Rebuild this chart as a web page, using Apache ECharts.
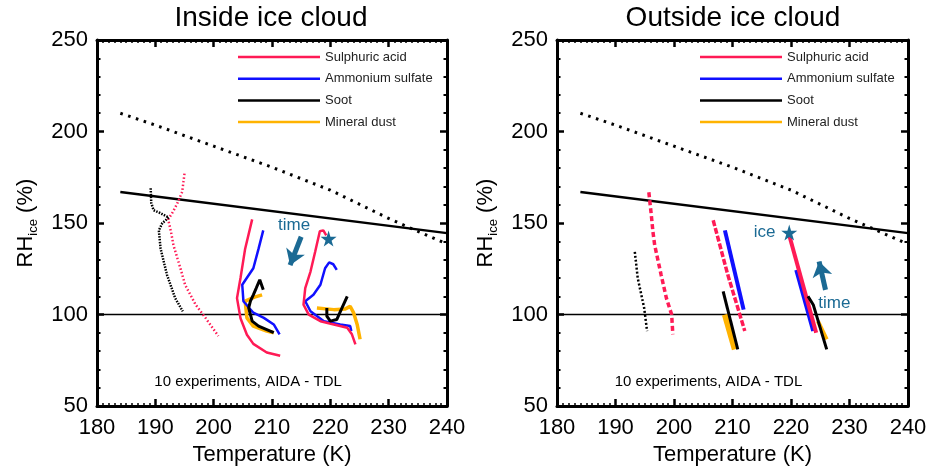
<!DOCTYPE html>
<html>
<head>
<meta charset="utf-8">
<script src="https://cdn.jsdelivr.net/npm/echarts@6/dist/echarts.min.js"></script>
<style>
  html, body { margin: 0; padding: 0; background: #fff; }
  #chart { width: 930px; height: 471px; }
</style>
</head>
<body>
<div id="chart"></div>
<script>
// reference lines (same in both panels)
const refT = [184, 190, 200, 210, 220, 230, 240]
const homRH = [210, 203.5, 192, 180.5, 168, 152.5, 138.5]   // dotted
const satT = [184, 240]
const satRH = [167, 144.5]                                // solid
const iceT = [180, 240]
const iceRH = [100, 100]

// inside ice cloud, [T, RH]
const inSootA = [[189.2,169],[189.3,161],[189.7,157],[190.8,155.5],[192.3,153],[191.2,150],[190.6,146],[190.9,136],[192,121.7],[193.4,109],[194.7,101.8]]
const inAcidA = [[195,177],[194.6,167],[193.8,161],[193,156],[192.2,152],[192.7,145],[193.1,138],[194.3,125.3],[195.1,116.3],[196.9,105.4],[198.6,98.2],[200.8,88.3]]
const inAcidB = [[206.6,152],[205.4,136],[204.6,120],[204,109],[204.6,98],[205.7,89],[206.8,84],[209.1,79.3],[211.4,77.5]]
const inBlueB = [[208.5,146],[207.7,136],[206.8,125.3],[204.9,116.3],[205.1,107.3],[206.8,101],[208.6,98.2],[210.3,94.6],[211.3,89.2]]
const inDustB = [[208.3,110.8],[207,109.5],[205.4,107.3],[205.7,98.2],[206.8,93.7],[209.1,91],[210.3,90.1]]
const inSootB = [[208.5,113.5],[207.9,119],[207.3,114.5],[206.8,110.8],[206.3,107.3],[206,103.6],[206.6,96.4],[207.7,93.7],[209.7,91],[210.3,90.1]]
const inAcidC = [[219.3,143.3],[218.8,146],[218.2,145.5],[217.4,134.3],[216.6,123.5],[215.7,114.5],[215.4,105.4],[216.3,100],[218.3,96.4],[220.6,94.6],[222.9,92.8],[223.7,89.2],[224.3,83.7]]
const inBlueC = [[221.1,124.4],[220.5,127.5],[219.8,128.5],[219.1,125.3],[218.3,116.3],[217.1,110.8],[215.7,107.3],[216.6,101.8],[218.9,96.4],[221.7,94.6],[223.4,93.7],[223.6,91]]
const inDustC = [[217.7,103.6],[220.6,102.7],[222.5,103],[223.4,104.5],[224,100.9],[224.6,94.6],[225.1,86.5]]
const inSootC = [[219.4,103.6],[219.4,99.1],[220,96.4],[221.1,97.3],[222,103.6],[222.9,110]]
const inStar = [219.7, 141.5]

// outside ice cloud
const outAcidA = [[195.7,166.8],[196.1,155],[196.4,145.2],[196.7,137.9],[197.8,121.7],[198.7,109],[199.6,100],[199.8,89.2]]
const outSootA = [[193.3,134.3],[193.8,119.9],[194.9,103.6],[195.4,91]]
const outAcidB = [[206.7,151.5],[209.2,121.7],[212.1,91]]
const outBlueB = [[208.7,146],[211.9,102.7]]
const outSootB = [[208.4,112.7],[210.9,81]]
const outDustB = [[208.7,100],[210.4,81]]
const outAcidC = [[219.7,143.3],[224.3,90.1]]
const outBlueC = [[220.9,124.4],[223.8,91]]
const outSootC = [[222.9,110],[223.8,105.4],[226.1,81]]
const outDustC = [[224.6,96.4],[226.1,86.5]]
const outStar = [219.7, 144.8]

const names = ['Sulphuric acid', 'Ammonium sulfate', 'Soot', 'Mineral dust']
const colors = { 'Sulphuric acid': '#ff1a55', 'Ammonium sulfate': '#1010ff', 'Soot': '#000000', 'Mineral dust': '#ffb300' }
const teal = '#1b6a94'
const FONT = 'Liberation Sans'
const starPath = 'path://M50,0 L61,35 L98,35 L68,57 L79,91 L50,70 L21,91 L32,57 L2,35 L39,35 Z'

const chart = echarts.init(document.getElementById('chart'))

function xAx(grid, top) {
  return {
    type: 'value', gridIndex: grid, min: 180, max: 240, interval: 10,
    position: top ? 'top' : 'bottom',
    axisLine: { show: true, onZero: false, lineStyle: { color: '#000', width: 3 } },
    axisTick: { show: true, inside: true, length: 7, lineStyle: { color: '#000', width: 2.5 } },
    minorTick: { show: true, splitNumber: 10, length: 3, lineStyle: { color: '#000', width: 1.5 } },
    axisLabel: { show: !top, color: '#000', fontFamily: FONT, fontSize: 22, margin: 11 },
    splitLine: { show: false },
    name: top ? '' : 'Temperature (K)', nameLocation: 'middle', nameGap: 31,
    nameTextStyle: { color: '#000', fontFamily: FONT, fontSize: 22 }
  }
}
function yAx(grid, right) {
  return {
    type: 'value', gridIndex: grid, min: 50, max: 250, interval: 50,
    position: right ? 'right' : 'left',
    axisLine: { show: true, onZero: false, lineStyle: { color: '#000', width: 3 } },
    axisTick: { show: true, inside: true, length: 7, lineStyle: { color: '#000', width: 2.5 } },
    minorTick: { show: true, splitNumber: 5, length: 3.5, lineStyle: { color: '#000', width: 2 } },
    axisLabel: { show: !right, color: '#000', fontFamily: FONT, fontSize: 22, margin: 9 },
    splitLine: { show: false },
    name: right ? '' : '{a|RH}{b|ice}{a| (%)}', nameLocation: 'middle', nameGap: 57, nameRotate: 90,
    nameTextStyle: {
      color: '#000', fontFamily: FONT, fontSize: 22,
      rich: {
        a: { fontFamily: FONT, fontSize: 22, color: '#000', lineHeight: 28 },
        b: { fontFamily: FONT, fontSize: 13, color: '#000', lineHeight: 28, padding: [14, 0, 0, 0] }
      }
    }
  }
}

function curve(p, name, data, width, dash) {
  return {
    type: 'line', name: name, xAxisIndex: p, yAxisIndex: p, data: data,
    symbol: 'none', silent: true, z: 3,
    lineStyle: { color: colors[name], width: width, type: dash || 'solid' },
    itemStyle: { color: colors[name] }
  }
}
function refLine(p, data, width, dash) {
  return {
    type: 'line', xAxisIndex: p, yAxisIndex: p, data: data, symbol: 'none', silent: true, z: 2,
    lineStyle: { color: '#000', width: width, type: dash || 'solid' }
  }
}
function note(p, pts, color, size) {
  return {
    type: 'scatter', xAxisIndex: p, yAxisIndex: p, symbolSize: 1, silent: true, z: 5,
    itemStyle: { color: 'rgba(0,0,0,0)', opacity: 1 },
    data: pts.map(d => ({ value: [d[0], d[1]], label: { formatter: d[2] } })),
    label: { show: true, position: 'inside', color: color, fontFamily: FONT, fontSize: size }
  }
}
function arrow(p, from, to) {
  return {
    type: 'line', xAxisIndex: p, yAxisIndex: p, data: [], silent: true,
    markLine: {
      silent: true, symbol: ['none', 'arrow'], symbolSize: 15, animation: false,
      label: { show: false },
      itemStyle: { color: teal },
      lineStyle: { color: teal, width: 5, type: 'solid', opacity: 1 },
      emphasis: { disabled: true },
      data: [[{ coord: from }, { coord: to }]]
    }
  }
}
function star(p, pt) {
  return {
    type: 'scatter', xAxisIndex: p, yAxisIndex: p, data: [pt], symbol: starPath, symbolSize: 16,
    itemStyle: { color: teal, opacity: 1 }, silent: true, z: 6
  }
}

const hom = refT.map((t, i) => [t, homRH[i]])
const sat = satT.map((t, i) => [t, satRH[i]])
const ice = iceT.map((t, i) => [t, iceRH[i]])

const series = []
for (const p of [0, 1]) {
  series.push(refLine(p, hom, 3, [2.6, 5.6]))
  series.push(refLine(p, sat, 2.5))
  series.push(refLine(p, ice, 1.5))
}
// inside
series.push(curve(0, 'Sulphuric acid', inAcidA, 2.5, [1.5, 2.2]))
series.push(curve(0, 'Soot', inSootA, 2.5, [1.5, 1.3]))
series.push(curve(0, 'Mineral dust', inDustB, 3.5))
series.push(curve(0, 'Ammonium sulfate', inBlueB, 2.5))
series.push(curve(0, 'Sulphuric acid', inAcidB, 2.5))
series.push(curve(0, 'Soot', inSootB, 3))
series.push(curve(0, 'Mineral dust', inDustC, 3.5))
series.push(curve(0, 'Ammonium sulfate', inBlueC, 2.5))
series.push(curve(0, 'Sulphuric acid', inAcidC, 2.5))
series.push(curve(0, 'Soot', inSootC, 3))
// outside
series.push(curve(1, 'Sulphuric acid', outAcidA, 3.5, [5, 3]))
series.push(curve(1, 'Soot', outSootA, 2.5, [2, 2]))
series.push(curve(1, 'Mineral dust', outDustB, 6))
series.push(curve(1, 'Ammonium sulfate', outBlueB, 4))
series.push(curve(1, 'Sulphuric acid', outAcidB, 3.5, [6, 2]))
series.push(curve(1, 'Soot', outSootB, 3))
series.push(curve(1, 'Mineral dust', outDustC, 4))
series.push(curve(1, 'Ammonium sulfate', outBlueC, 4))
series.push(curve(1, 'Sulphuric acid', outAcidC, 4))
series.push(curve(1, 'Soot', outSootC, 3))
// annotations
series.push(star(0, inStar))
series.push(star(1, outStar))
series.push(arrow(0, [215, 142.5], [213.1, 127]))
series.push(arrow(1, [225.9, 113.5], [224.8, 129]))
series.push(note(0, [[213.8, 148.6, 'time']], teal, 17))
series.push(note(1, [[227.4, 106.3, 'time'], [215.5, 145, 'ice']], teal, 17))
series.push(note(0, [[205.9, 63, '10 experiments, AIDA - TDL']], '#000', 15))
series.push(note(1, [[205.9, 63, '10 experiments, AIDA - TDL']], '#000', 15))

function legendAt(left) {
  return {
    data: names, orient: 'vertical', left: left, top: 45, icon: 'rect',
    itemWidth: 82, itemHeight: 2.5, itemGap: 7.7, itemTextGap: 14,
    selectedMode: false,
    textStyle: { color: '#222', fontFamily: FONT, fontSize: 13, lineHeight: 14 }
  }
}

chart.setOption({
  animation: false,
  backgroundColor: '#fff',
  grid: [
    { left: 97, top: 40, width: 350, height: 369 },
    { left: 557, top: 40, width: 351, height: 369 }
  ],
  xAxis: [xAx(0, false), xAx(1, false), xAx(0, true), xAx(1, true)],
  yAxis: [yAx(0, false), yAx(1, false), yAx(0, true), yAx(1, true)],
  legend: [legendAt(233), legendAt(695)],
  graphic: [
    { type: 'text', x: 271, y: 18, style: { text: 'Inside ice cloud', fill: '#000', font: '28px "Liberation Sans"', textAlign: 'center', textVerticalAlign: 'middle' } },
    { type: 'text', x: 733, y: 18, style: { text: 'Outside ice cloud', fill: '#000', font: '28px "Liberation Sans"', textAlign: 'center', textVerticalAlign: 'middle' } }
  ],
  series: series
})
</script>
</body>
</html>
